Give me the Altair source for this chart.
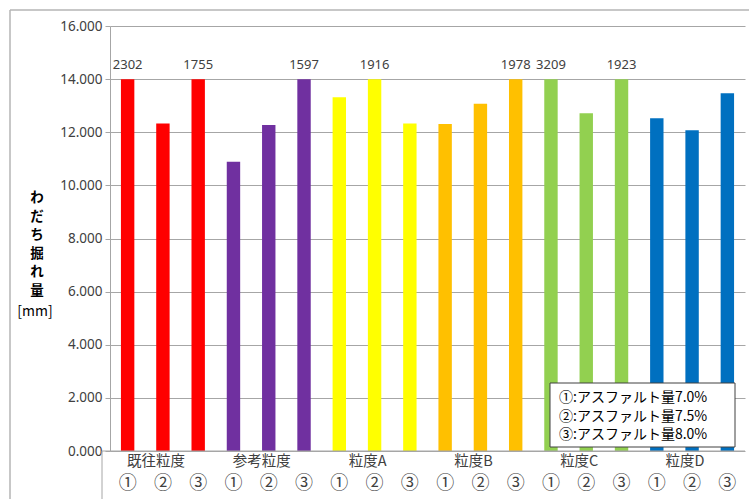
import altair as alt
import pandas as pd

# Rutting depth per grading / asphalt content
groups = ["既往粒度", "参考粒度", "粒度A", "粒度B", "粒度C", "粒度D"]
contents = ["①", "②", "③"]
values = [
    2302, 12.33, 1755,
    10.89, 12.27, 1597,
    13.32, 1916, 12.33,
    12.31, 13.07, 1978,
    3209, 12.72, 1923,
    12.53, 12.08, 13.47,
]
group_colors = ["#FF0000", "#7030A0", "#FFFF00", "#FFC000", "#92D050", "#0070C0"]
legend_lines = ["①:アスファルト量7.0%", "②:アスファルト量7.5%", "③:アスファルト量8.0%"]
y_title_chars = ["わ", "だ", "ち", "掘", "れ", "量"]
axis_cap = 14  # bars beyond this are drawn broken at the cap and labelled

W, H = 635, 425
JP = "Noto Sans CJK JP"
NUM = "Noto Sans"

rows = []
for gi, g in enumerate(groups):
    for ci, c in enumerate(contents):
        rows.append({"key": f"{g}{c}", "group": g, "content": c,
                     "value": values[gi * 3 + ci]})
df = pd.DataFrame(rows)
order = list(df["key"])

x = alt.X("key:N", sort=order, axis=None,
          scale=alt.Scale(paddingInner=0.62, paddingOuter=0.31))

base = alt.Chart(df).transform_calculate(
    shown=f"min(datum.value, {axis_cap})"
)

bars = base.mark_bar().encode(
    x=x,
    y=alt.Y("shown:Q", scale=alt.Scale(domain=[0, 16]),
            axis=alt.Axis(values=list(range(0, 17, 2)), format=".3f", title=None,
                          grid=True, gridColor="#a6a6a6", domainColor="#a6a6a6",
                          tickColor="#a6a6a6", tickSize=5, labelFontSize=13.5,
                          labelFont=NUM, labelColor="#404040", labelPadding=3)),
    color=alt.Color("group:N", sort=groups,
                    scale=alt.Scale(domain=groups, range=group_colors), legend=None),
)

over_labels = base.transform_filter(f"datum.value > {axis_cap}").mark_text(
    font=NUM, fontSize=13, color="#404040", baseline="middle", dy=-14
).encode(x=x, y=alt.Y("shown:Q"), text=alt.Text("value:Q", format="d"))

content_labels = base.mark_text(
    font=JP, fontSize=18, color="#404040", baseline="middle"
).encode(x=x, y=alt.value(H + 33), text="content:N")

group_labels = base.transform_filter("datum.content == '②'").mark_text(
    font=JP, fontSize=14.5, color="#404040", baseline="middle", dx=-7
).encode(x=x, y=alt.value(H + 11), text="group:N")

one = alt.Data(values=[{}])
frame_color = "#b4b4b4"
frame_left = alt.Chart(one).mark_rule(color=frame_color, strokeWidth=1.5).encode(
    x=alt.value(-100), y=alt.value(-16), y2=alt.value(H + 60))
frame_top = alt.Chart(one).mark_rule(color=frame_color, strokeWidth=1.5).encode(
    x=alt.value(-100), x2=alt.value(W + 10), y=alt.value(-16))
cat_left = alt.Chart(one).mark_rule(color="#a6a6a6").encode(
    x=alt.value(-8), y=alt.value(H), y2=alt.value(H + 60))
cat_top = alt.Chart(one).mark_rule(color="#a6a6a6").encode(
    x=alt.value(-8), x2=alt.value(W), y=alt.value(H))

y_title = alt.Chart(one).mark_text(
    font=JP, fontSize=13.5, fontWeight="bold", color="#000000",
    baseline="top", align="center", lineHeight=18.5
).encode(x=alt.value(-73), y=alt.value(165), text=alt.value(y_title_chars))
y_unit = alt.Chart(one).mark_text(
    font=JP, fontSize=14, color="#000000", baseline="middle", align="center"
).encode(x=alt.value(-75), y=alt.value(286), text=alt.value("[mm]"))

legend_box = alt.Chart(one).mark_rect(
    fill="white", stroke="#404040", strokeWidth=1
).encode(x=alt.value(440), x2=alt.value(625), y=alt.value(357), y2=alt.value(421))
legend_text = alt.Chart(one).mark_text(
    font=JP, fontSize=14, color="#000000", baseline="middle", align="left",
    lineHeight=18.5
).encode(x=alt.value(449), y=alt.value(372), text=alt.value(legend_lines))

chart = alt.layer(
    bars, over_labels, content_labels, group_labels,
    cat_left, cat_top, frame_left, frame_top,
    y_title, y_unit, legend_box, legend_text,
).properties(
    width=W, height=H,
    autosize=alt.AutoSizeParams(type="none"),
    padding={"left": 110, "top": 26, "right": 4, "bottom": 48},
    background="white",
).configure_view(stroke=None)

chart.save("out.html", embed_options={"renderer": "svg", "actions": False})
